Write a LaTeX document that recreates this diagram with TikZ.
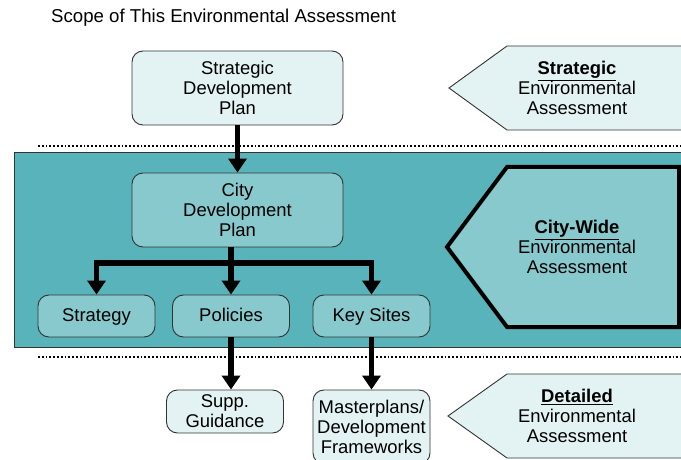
\documentclass[tikz,border=0pt]{standalone}
\usepackage{fontspec}
\setmainfont{Liberation Sans}
\usetikzlibrary{arrows.meta}
\definecolor{bandfill}{HTML}{58B3BA}
\definecolor{midfill}{HTML}{88C9CD}
\definecolor{lightfill}{HTML}{E3F3F4}
\definecolor{edgegray}{HTML}{333333}
\tikzset{
  x=1bp, y=-1bp,
  every node/.style={font=\fontsize{18.5}{20}\selectfont, align=center, inner sep=0pt},
  plainbox/.style={draw=edgegray, line width=0.9bp, rounded corners=11bp},
  lightbox/.style={plainbox, fill=lightfill},
  midbox/.style={plainbox, fill=midfill},
  oneline/.style={text height=15bp, text depth=3bp},
  arr/.style={line width=5.5bp, -{Triangle[width=18bp,length=14bp]}},
  dotline/.style={line width=1.8bp, dash pattern=on 1.8bp off 2bp},
  pent/.style={draw=edgegray, line width=0.9bp, fill=lightfill},
}
\begin{document}
\begin{tikzpicture}
\clip (0,0) rectangle (681,460);
\fill[white] (0,0) rectangle (681,460);

% title
\node[anchor=west, font=\fontsize{18.7}{20}\selectfont] (title) at (51,18) {Scope of This Environmental Assessment};

% dotted lines
\draw[dotline] (38,146) -- (681,146);
\draw[dotline] (38,357) -- (681,357);

% band
\draw[fill=bandfill, draw=edgegray, line width=0.9bp] (14,152) rectangle (690,347);

% strategic EA pentagon
\draw[pent] (449,88) -- (507,46) -- (690,46) -- (690,130) -- (507,130) -- cycle;
\node (sea) at (577,88) {\textbf{\underline{Strategic}}\\Environmental\\Assessment};

% city-wide EA pentagon
\draw[fill=midfill, draw=black, line width=4bp, line join=miter] (447,247) -- (507,167) -- (679,167) -- (679,327) -- (507,327) -- cycle;
\node (cea) at (577,247) {\textbf{\underline{City-Wide}}\\Environmental\\Assessment};

% detailed EA pentagon
\draw[pent] (448,416) -- (507,374) -- (690,374) -- (690,458) -- (507,458) -- cycle;
\node (dea) at (577,416) {\textbf{\underline{Detailed}}\\Environmental\\Assessment};

% boxes
\node[lightbox, minimum width=211bp, minimum height=74bp] (sdp) at (237.5,88) {Strategic\\Development\\Plan};
\node[midbox, minimum width=211bp, minimum height=74bp] (cdp) at (237.5,210) {City\\Development\\Plan};
\node[midbox, oneline, minimum width=117bp, minimum height=42bp] (strat) at (96.5,316) {Strategy};
\node[midbox, oneline, minimum width=117bp, minimum height=42bp] (pol) at (231,316) {Policies};
\node[midbox, oneline, minimum width=117bp, minimum height=42bp] (key) at (371.5,316) {Key Sites};
\node[lightbox, minimum width=117bp, minimum height=43bp] (supp) at (225,411.5) {Supp.\\Guidance};
\node[lightbox, minimum width=117bp, minimum height=74bp] (mast) at (371.5,427) {Masterplans/\\Development\\Frameworks};

% connectors
\coordinate (jn) at (231,263);
\draw[arr] (sdp.south) -- (cdp.north);
\draw[arr] (pol.north |- cdp.south) -- (pol.north);
\draw[arr, line join=miter] (jn) -| (strat.north);
\draw[arr, line join=miter] (jn) -| (key.north);
\draw[arr] (pol.south) -- (pol.south |- supp.north);
\draw[arr] (key.south) -- (mast.north);
\end{tikzpicture}
\end{document}
